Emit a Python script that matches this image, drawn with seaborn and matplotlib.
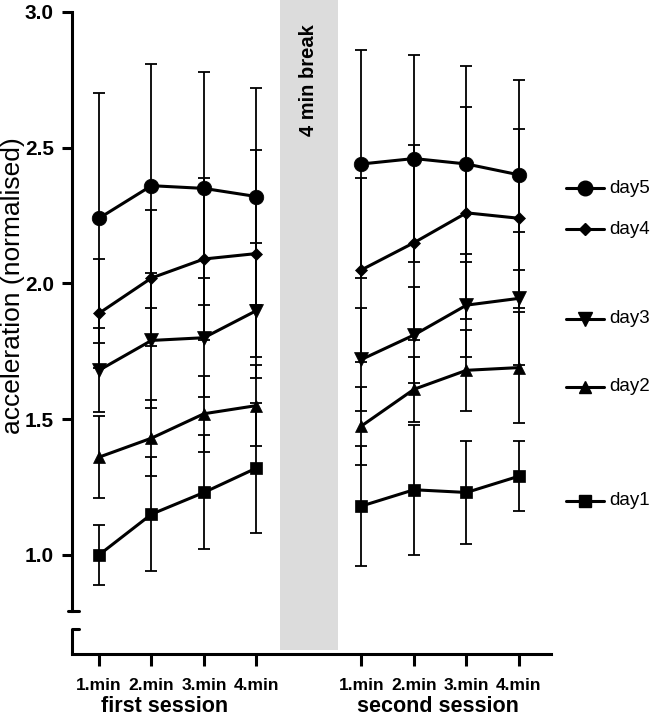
import numpy as np
import pandas as pd
import matplotlib
matplotlib.use("Agg")
import matplotlib.pyplot as plt
import seaborn as sns

# values: 4 minutes of first session, then 4 of second session
minutes = ["1.min", "2.min", "3.min", "4.min"]
sessions = ["first session", "second session"]
days = ["day1", "day2", "day3", "day4", "day5"]

day1_mean = [1.00, 1.15, 1.23, 1.32, 1.18, 1.24, 1.23, 1.29]
day1_err = [0.11, 0.21, 0.21, 0.24, 0.22, 0.24, 0.19, 0.13]
day2_mean = [1.36, 1.43, 1.52, 1.55, 1.475, 1.61, 1.68, 1.69]
day2_err = [0.15, 0.14, 0.14, 0.15, 0.145, 0.12, 0.15, 0.205]
day3_mean = [1.68, 1.79, 1.80, 1.90, 1.72, 1.81, 1.92, 1.945]
day3_err = [0.155, 0.25, 0.22, 0.25, 0.19, 0.175, 0.19, 0.245]
day4_mean = [1.89, 2.02, 2.09, 2.11, 2.05, 2.15, 2.26, 2.24]
day4_err = [0.20, 0.25, 0.30, 0.38, 0.34, 0.36, 0.39, 0.33]
day5_mean = [2.24, 2.36, 2.35, 2.32, 2.44, 2.46, 2.44, 2.40]
day5_err = [0.46, 0.45, 0.43, 0.40, 0.42, 0.38, 0.36, 0.35]

means = [day1_mean, day2_mean, day3_mean, day4_mean, day5_mean]
errs = [day1_err, day2_err, day3_err, day4_err, day5_err]

rows = []
for day, m, e in zip(days, means, errs):
    for i in range(8):
        s = i // 4
        rows.append({"day": day, "session": sessions[s], "minute": minutes[i % 4],
                     "x": i + s, "mean": m[i], "err": e[i]})
df = pd.DataFrame(rows)

# marker styles per day
markers = {"day1": ("s", 9), "day2": ("^", 9), "day3": ("v", 10), "day4": ("D", 6.5), "day5": ("o", 10.5)}
legend_y = {"day1": 1.20, "day2": 1.62, "day3": 1.87, "day4": 2.20, "day5": 2.35}

sns.set_style("ticks")
plt.rcParams["font.family"] = ["Liberation Sans", "DejaVu Sans"]
for k in ["text.color", "axes.labelcolor", "xtick.color", "ytick.color", "axes.edgecolor"]:
    plt.rcParams[k] = "black"

W, H = 656, 720
fig = plt.figure(figsize=(W / 100, H / 100), dpi=100)
ax = fig.add_axes([72 / W, 66 / H, (551 - 72) / W, 654 / H])

# 4 min break band
ax.axvspan(3.45, 4.55, ymin=0.006, ymax=1, color="#dcdcdc", lw=0, zorder=0)
ax.text(4.0, 2.75, "4 min break", rotation=90, ha="center", va="center",
        fontsize=14.5, fontweight="bold")

ax.errorbar(df["x"], df["mean"], yerr=df["err"], fmt="none", ecolor="black",
            elinewidth=1.3, capsize=4.4, capthick=1.3, zorder=2)

for day in days:
    mk, ms = markers[day]
    for sess in sessions:
        sub = df[(df["day"] == day) & (df["session"] == sess)]
        sns.lineplot(data=sub, x="x", y="mean", color="black", linewidth=2.2,
                     marker=mk, markersize=ms, markeredgecolor="black",
                     markeredgewidth=0.5, ax=ax, zorder=3, legend=False)

    # manual legend on the right
    y = legend_y[day]
    ax.plot([8.9, 9.26, 9.62], [y, y, y], color="black", lw=2.2, marker=mk,
            markersize=ms, markevery=[1], clip_on=False)
    ax.text(9.72, y, day, va="center", ha="left", fontsize=13.5)

ax.set_xlim(-0.514, 8.61)
ax.set_ylim(0.635, 3.044)

xpos = sorted(df["x"].unique())
ax.set_xticks(xpos)
ax.set_xticklabels(minutes * 2, fontsize=12.5, fontweight="bold")
ax.set_yticks([1.0, 1.5, 2.0, 2.5, 3.0])
ax.set_yticklabels(["1.0", "1.5", "2.0", "2.5", "3.0"], fontsize=15, fontweight="bold")
ax.tick_params(axis="x", length=8.5, width=2.2, pad=9)
ax.tick_params(axis="y", length=7, width=2.2, pad=6)
ax.set_xlabel("")
ax.set_ylabel("acceleration (normalised)", fontsize=19, rotation=90,
              ha="center", va="center")
ax.yaxis.set_label_coords(-0.123, 0.564)

sns.despine(ax=ax)
for sp in ["left", "bottom"]:
    ax.spines[sp].set_linewidth(2.2)
ax.spines["left"].set_bounds(0.795, 3.0)

# broken axis: lower stub and caps
yt = ax.get_yaxis_transform()
ax.plot([0, 0], [0.635, 0.726], transform=yt, color="black", lw=2.2,
        clip_on=False, solid_capstyle="butt")
ax.plot([-0.008, 0.014], [0.795, 0.795], transform=yt, color="black", lw=2.2, clip_on=False)
ax.plot([0, 0.014], [0.726, 0.726], transform=yt, color="black", lw=2.2, clip_on=False)

fig.text(165 / W, 1 - 707 / H, "first session", ha="center", va="center",
         fontsize=15.5, fontweight="bold")
fig.text(438 / W, 1 - 707 / H, "second session", ha="center", va="center",
         fontsize=15.5, fontweight="bold")

fig.savefig("out.png", dpi=100)
